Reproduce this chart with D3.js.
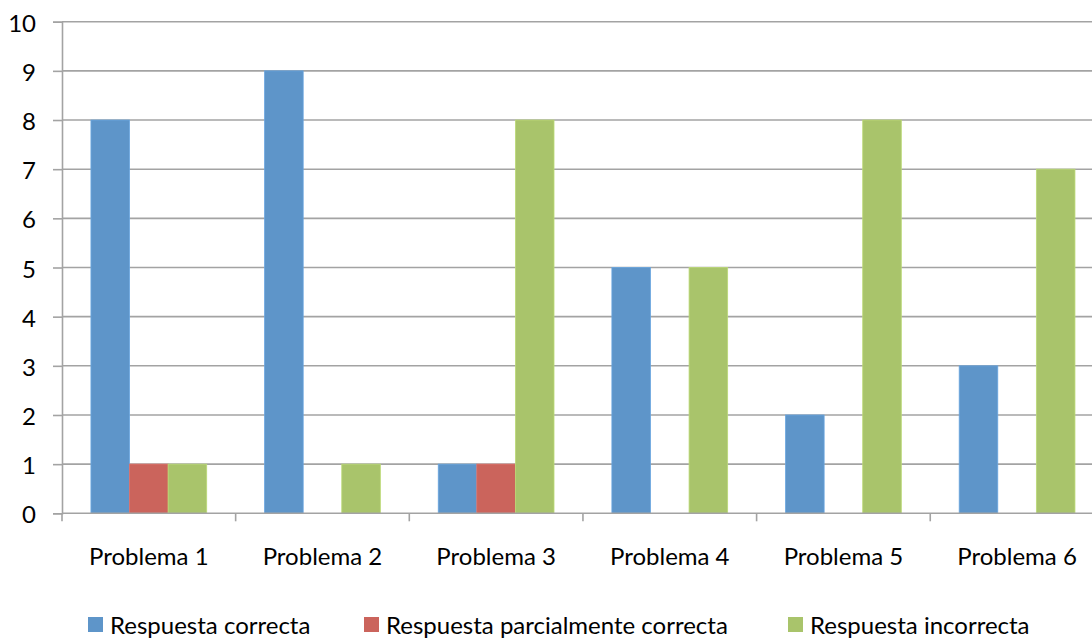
<!DOCTYPE html>
<html>
<head>
<meta charset="utf-8">
<script src="https://cdn.jsdelivr.net/npm/d3@7"></script>
<style>
  html, body { margin: 0; padding: 0; background: #fff; }
  svg { display: block; }
  text { font-family: Lato, "Open Sans", sans-serif; fill: #000; }
</style>
</head>
<body>
<svg id="chart" width="1092" height="639"></svg>
<script>
// Number of answers per problem, by answer type
const categories = ["Problema 1", "Problema 2", "Problema 3", "Problema 4", "Problema 5", "Problema 6"];
const seriesNames = ["Respuesta correcta", "Respuesta parcialmente correcta", "Respuesta incorrecta"];
const correcta = [8, 9, 1, 5, 2, 3];
const parcial = [1, 0, 1, 0, 0, 0];
const incorrecta = [1, 1, 8, 5, 8, 7];
const yTicks = [0, 1, 2, 3, 4, 5, 6, 7, 8, 9, 10];
const colors = ["#5e95c9", "#cb645c", "#a9c46b"];

const seriesValues = [correcta, parcial, incorrecta];
const table = categories.map((c, i) => ({
  cat: c,
  vals: seriesValues.map((s, k) => ({ key: seriesNames[k], k, v: s[i] }))
}));

const svg = d3.select("#chart");
const plotLeft = 62, plotTop = 21.7, plotBottom = 513.3;
const bandW = 173.65;
const plotRight = plotLeft + bandW * categories.length;
const fontSize = "24px";

const x = d3.scaleBand().domain(categories).range([plotLeft, plotRight]).paddingInner(0).paddingOuter(0);
const inner = d3.scaleBand().domain(d3.range(3)).range([0, x.bandwidth()]).paddingOuter(0.75).paddingInner(0);
const y = d3.scaleLinear().domain([0, 10]).range([plotBottom, plotTop]);

// horizontal gridlines
svg.append("g").selectAll("line").data(yTicks.slice(1)).join("line")
  .attr("x1", plotLeft).attr("x2", plotRight)
  .attr("y1", d => y(d)).attr("y2", d => y(d))
  .attr("stroke", "#a3a3a3").attr("stroke-width", 1.6);

// bars
const groups = svg.append("g").selectAll("g").data(table).join("g")
  .attr("transform", d => `translate(${x(d.cat)},0)`);
groups.selectAll("rect").data(d => d.vals.filter(e => e.v > 0)).join("rect")
  .attr("x", d => inner(d.k))
  .attr("width", inner.bandwidth())
  .attr("y", d => y(d.v))
  .attr("height", d => y(0) - y(d.v))
  .attr("fill", d => colors[d.k])
  .attr("stroke", d => d3.color(colors[d.k]).brighter(0.3))
  .attr("stroke-width", 0.8);

// y axis
const yAxis = d3.axisLeft(y).tickValues(yTicks).tickSize(9).tickPadding(17).tickFormat(d3.format("d"));
const gy = svg.append("g").attr("transform", `translate(${plotLeft},0)`).call(yAxis);
gy.select(".domain").attr("stroke", "#a3a3a3").attr("stroke-width", 1.6);
gy.selectAll(".tick line").attr("stroke", "#a3a3a3").attr("stroke-width", 1.6);
gy.selectAll(".tick text").style("font-size", fontSize).attr("dy", "0.4em");

// x axis with ticks at category boundaries
const gx = svg.append("g").attr("transform", `translate(0,${plotBottom})`);
gx.append("line").attr("x1", plotLeft).attr("x2", plotRight).attr("y1", 0).attr("y2", 0)
  .attr("stroke", "#a3a3a3").attr("stroke-width", 1.6);
const boundaries = d3.range(categories.length + 1).map(i => plotLeft + i * bandW);
gx.selectAll("line.tk").data(boundaries).join("line").attr("class", "tk")
  .attr("x1", d => d).attr("x2", d => d).attr("y1", 0).attr("y2", 8)
  .attr("stroke", "#a3a3a3").attr("stroke-width", 1.6);
gx.selectAll("text").data(categories).join("text")
  .attr("x", d => x(d) + x.bandwidth() / 2)
  .attr("y", 52)
  .attr("text-anchor", "middle")
  .style("font-size", fontSize)
  .text(d => d);

// legend
const legendX = [88, 364, 788];
const lg = svg.append("g").selectAll("g").data(seriesNames).join("g")
  .attr("transform", (d, i) => `translate(${legendX[i]},617)`);
lg.append("rect").attr("width", 15).attr("height", 15).attr("fill", (d, i) => colors[i]);
lg.append("text").attr("x", 22).attr("y", 17).style("font-size", fontSize).text(d => d);
</script>
</body>
</html>
